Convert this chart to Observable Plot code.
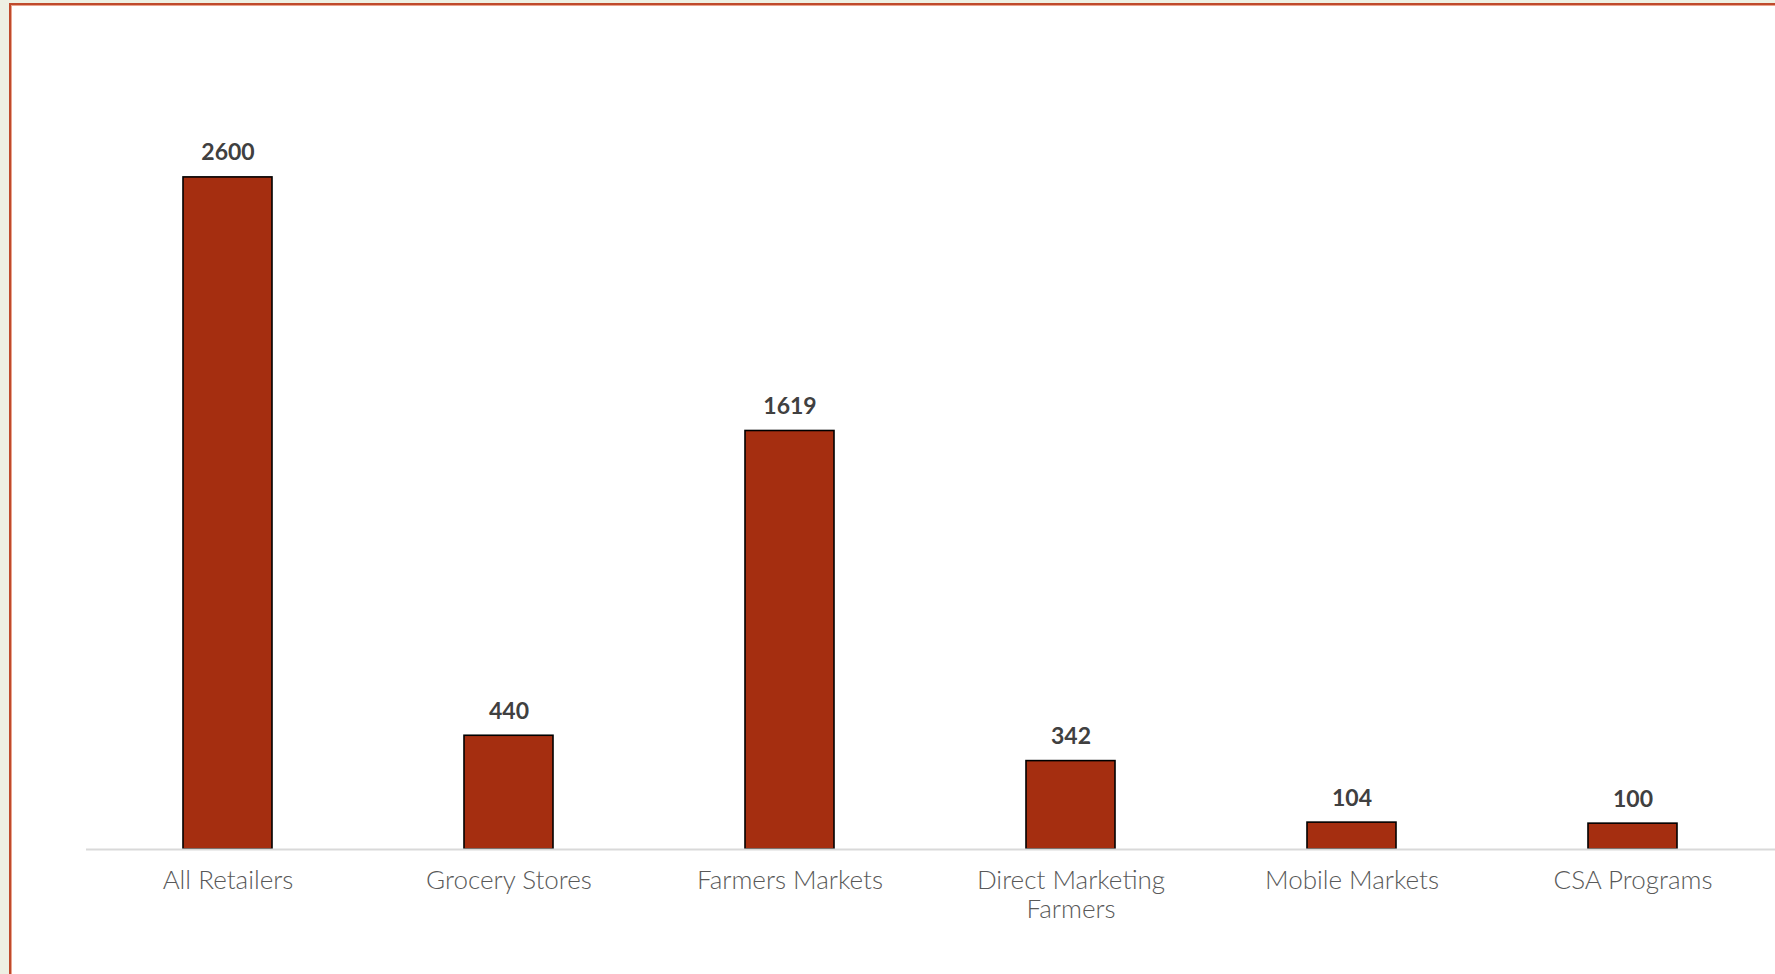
<!DOCTYPE html>
<html>
<head>
<meta charset="utf-8">
<script src="https://cdn.jsdelivr.net/npm/d3@7"></script>
<script src="https://cdn.jsdelivr.net/npm/@observablehq/plot@0.6"></script>
<style>
  html, body { margin: 0; padding: 0; background: #eef0e3; width: 1775px; height: 974px; overflow: hidden; }
  #frame { position: absolute; left: 9px; top: 3px; width: 1800px; height: 1000px; background: #ffffff;
           border-left: 2px solid #bf4a2c; border-top: 2px solid #bf4a2c; box-shadow: inset 1px 1px 0 #e9a48f; }
  #chart { position: absolute; left: 0; top: 0; }
</style>
</head>
<body>
<div id="frame"></div>
<div id="chart"></div>
<script>
const categories = ["All Retailers", "Grocery Stores", "Farmers Markets", "Direct Marketing\nFarmers", "Mobile Markets", "CSA Programs"];
const values = [2600, 440, 1619, 342, 104, 100];

const data = categories.map((c, i) => ({category: c, value: values[i]}));

const chart = Plot.plot({
  width: 1775,
  height: 974,
  marginLeft: 86,
  marginRight: 0,
  marginTop: 73.5,
  marginBottom: 125,
  style: {background: "transparent", fontFamily: "Lato, 'Open Sans', sans-serif"},
  x: {domain: categories, paddingInner: 0.683, paddingOuter: 0.3415, axis: null},
  y: {domain: [0, 3000], axis: null},
  marks: [
    Plot.barY(data, {x: "category", y: "value", fill: "#a52e10", stroke: "#000000", strokeWidth: 1.6}),
    Plot.ruleY([0], {stroke: "#d9d9d9", strokeWidth: 2}),
    Plot.text(data, {x: "category", y: "value", text: d => String(d.value), lineAnchor: "bottom", dy: -17,
      fontSize: 23, fontWeight: "bold", fill: "#404040"}),
    Plot.text(data, {x: "category", y: 0, text: "category", lineAnchor: "top", dy: 18, lineHeight: 1.14,
      fontSize: 26, fill: "#595959", fontWeight: 300})
  ]
});
document.getElementById("chart").appendChild(chart);
</script>
</body>
</html>
